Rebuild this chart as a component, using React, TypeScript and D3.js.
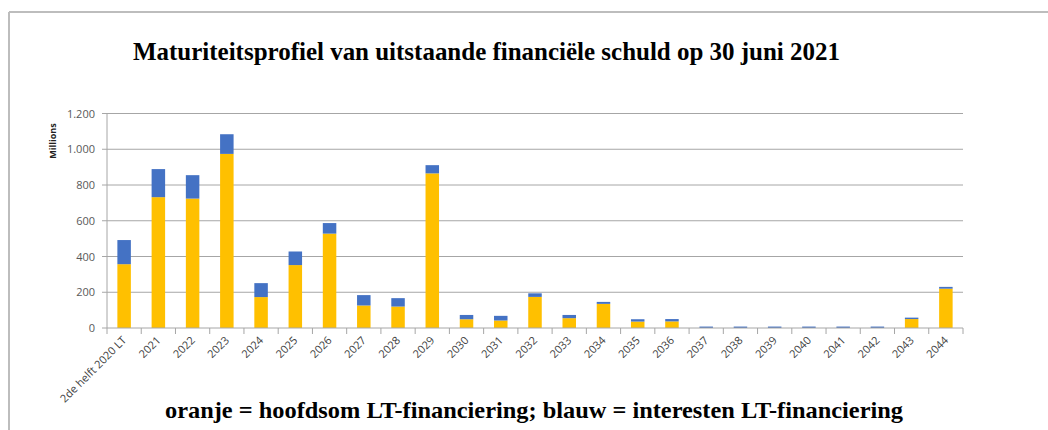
import React from "react";
import * as d3 from "d3";

// maturity buckets
const categories = [
  "2de helft 2020 LT", "2021", "2022", "2023", "2024", "2025", "2026", "2027", "2028", "2029",
  "2030", "2031", "2032", "2033", "2034", "2035", "2036", "2037", "2038", "2039",
  "2040", "2041", "2042", "2043", "2044",
];
// oranje = hoofdsom (millions)
const hoofdsom = [357, 732, 724, 974, 173, 352, 528, 126, 120, 865, 49, 42, 174, 55, 135, 36, 37, 0, 0, 0, 0, 0, 0, 50, 220];
// blauw = interesten (millions)
const interesten = [135, 157, 131, 110, 78, 76, 59, 58, 47, 46, 24, 26, 20, 18, 11, 13, 13, 8, 8, 8, 8, 8, 8, 8, 10];
const yTicks = [0, 200, 400, 600, 800, 1000, 1200];

const W = 1048;
const H = 430;
const left = 107;
const right = 963;
const top = 113.5;
const bottom = 328;

const fmt = (v: number) => d3.format(",")(v).replace(/,/g, ".");

export default function App() {
  const x = d3.scaleBand<string>().domain(categories).range([left, right]).paddingInner(0.6).paddingOuter(0.3);
  const y = d3.scaleLinear().domain([0, 1200]).range([bottom, top]);
  const bw = 13.5;

  const rows = categories.map((c, i) => ({ c, h: hoofdsom[i], r: interesten[i] }));
  const stacked = d3.stack<any>().keys(["h", "r"])(rows);
  const colors = ["#FFC000", "#4472C4"];
  const n = categories.length;
  const boundaries = d3.range(n + 1).map((i) => left + i * (right - left) / n);
  // bar sits in the middle of its band
  const center = (c: string) => x(c)! + x.bandwidth() / 2;

  return (
    <svg width={W} height={H} style={{ position: "absolute", left: 0, top: 0, background: "#fff" }}>
      {/* frame */}
      <line x1={9} x2={W} y1={12} y2={12} stroke="#bdbdbd" strokeWidth={2} />
      <line x1={9} x2={9} y1={12} y2={H} stroke="#bdbdbd" strokeWidth={2} />

      <text x={486.5} y={59.5} textAnchor="middle" fontFamily="'Liberation Serif', serif" fontWeight="bold" fontSize={25}
        textLength={707} lengthAdjust="spacingAndGlyphs">
        Maturiteitsprofiel van uitstaande financiële schuld op 30 juni 2021
      </text>

      {/* grid */}
      {yTicks.map((t) => (
        <g key={t}>
          {t > 0 && <line x1={left} x2={right} y1={y(t)} y2={y(t)} stroke="#a6a6a6" strokeWidth={1} />}
          <line x1={left - 5} x2={left} y1={y(t)} y2={y(t)} stroke="#a6a6a6" />
          <text x={95} y={y(t) + 4} textAnchor="end" fontFamily="'Open Sans', sans-serif" fontSize={11} fill="#595959">
            {fmt(t)}
          </text>
        </g>
      ))}
      <line x1={left} x2={left} y1={top} y2={bottom} stroke="#a6a6a6" />
      <text transform={`translate(56,141) rotate(-90)`} textAnchor="middle" fontFamily="'Open Sans', sans-serif" fontWeight="bold" fontSize={9} fill="#222">
        Millions
      </text>

      {/* bars */}
      {stacked.map((s, k) => (
        <g key={k} fill={colors[k]}>
          {s.map((d: any) => {
            const h = y(d[0]) - y(d[1]);
            if (h <= 0) return null;
            return <rect key={d.data.c} x={center(d.data.c) - bw / 2} y={y(d[1])} width={bw} height={h} />;
          })}
        </g>
      ))}

      {/* x axis */}
      <line x1={left} x2={right} y1={bottom} y2={bottom} stroke="#a6a6a6" />
      {boundaries.map((b, i) => (
        <line key={i} x1={b} x2={b} y1={bottom} y2={bottom + 6} stroke="#a6a6a6" />
      ))}
      {categories.map((c) => (
        <text key={c} transform={`translate(${center(c) + 3},${341}) rotate(-45)`} textAnchor="end" fontFamily="'Open Sans', sans-serif" fontSize={11} fill="#404040">
          {c}
        </text>
      ))}

      <text x={534} y={418} textAnchor="middle" fontFamily="'Liberation Serif', serif" fontWeight="bold" fontSize={23}
        textLength={738} lengthAdjust="spacingAndGlyphs">
        oranje = hoofdsom LT-financiering; blauw = interesten LT-financiering
      </text>
    </svg>
  );
}
